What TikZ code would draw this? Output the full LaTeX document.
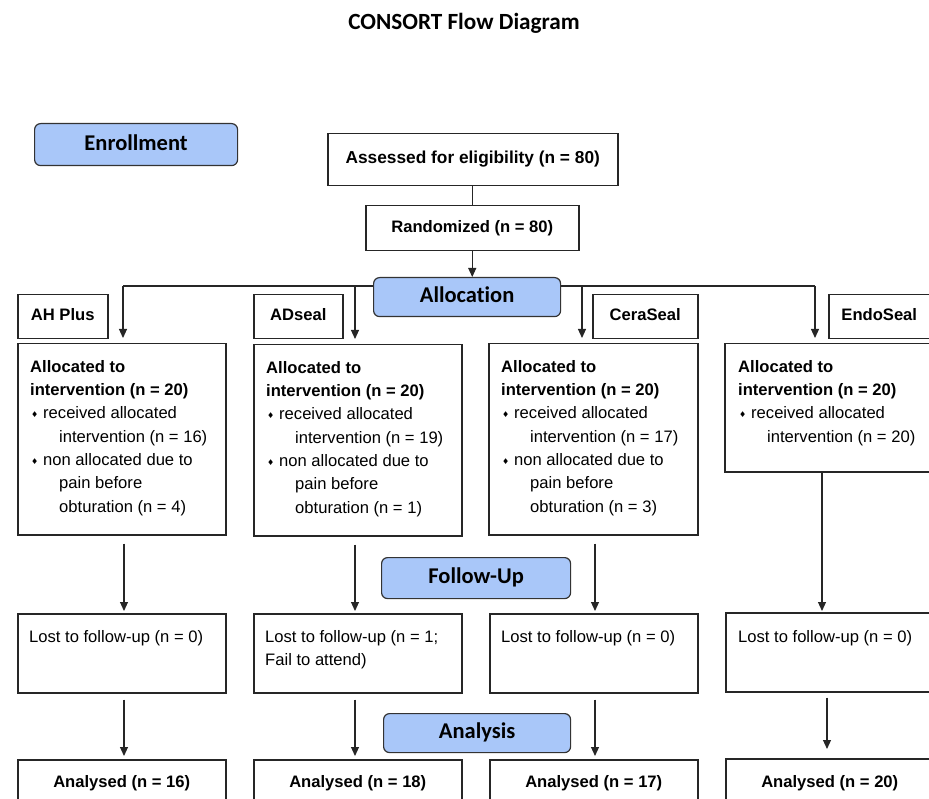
\documentclass[tikz,border=0pt]{standalone}
\usepackage{fontspec}
\setmainfont{Liberation Sans}
\newfontfamily\calfont[Ligatures=NoCommon]{Carlito}
\newfontfamily\symfont{DejaVu Sans}
\usetikzlibrary{arrows.meta}
\definecolor{phaseblue}{HTML}{A9C7F9}
\newcommand\bul{\hspace*{1pt}\makebox[12pt][l]{\symfont\fontsize{8}{8}\selectfont\raisebox{1.2pt}{♦}}}
\newcommand\cont{\hspace*{29pt}}
\begin{document}
\begin{tikzpicture}[x=1pt,y=-1pt,
  box/.style={draw=black!85, line width=1.5pt, fill=white, inner sep=0pt, anchor=north west,
    font=\bfseries\fontsize{16.6}{20}\selectfont, text height=12pt, text depth=3.5pt},
  phase/.style={draw=black!80, line width=1.2pt, fill=phaseblue, rounded corners=6pt, inner sep=0pt,
    anchor=north west, font=\calfont\bfseries\fontsize{22.5}{27}\selectfont, text height=14pt, text depth=3pt},
  conn/.style={line width=1.1pt, draw=black!85},
  arr/.style={conn, -{Triangle[length=9pt,width=8pt]}},
  txt/.style={inner sep=0pt, anchor=north west, align=left, font=\fontsize{16.6}{23.3}\selectfont},
]
\clip (0,0) rectangle (929,799);

\node[font=\calfont\bfseries\fontsize{23.2}{27}\selectfont] (title) at (464,23) {CONSORT Flow Diagram};

% allocation line
\coordinate (h1) at (123,286);
\coordinate (h2) at (355,286);
\coordinate (h3) at (582,286);
\coordinate (h4) at (815,286);
\draw[conn] (h1) -- (h4);

% enrollment
\node[phase, minimum width=203pt, minimum height=42pt] (enr) at (34,123) {Enrollment};
\node[box, minimum width=290pt, minimum height=52pt, font=\bfseries\fontsize{17.3}{20}\selectfont] (ass) at (327,133) {Assessed for eligibility (n = 80)};
\node[box, minimum width=213pt, minimum height=45pt] (rand) at (365,205) {Randomized (n = 80)};
\node[phase, minimum width=187pt, minimum height=39pt] (alloc) at (373,277) {Allocation};

\draw[conn] (ass.south -| rand.north) -- (rand.north);
\draw[arr] (rand.south) -- (rand.south |- alloc.north);

% group labels
\node[box, minimum width=90pt, minimum height=44pt] (g1) at (17,294) {AH Plus};
\node[box, minimum width=89pt, minimum height=44pt] (g2) at (253,294) {ADseal};
\node[box, minimum width=105pt, minimum height=44pt] (g3) at (592,294) {CeraSeal};
\node[box, minimum width=120pt, minimum height=44pt] (g4) at (828,294) {EndoSeal\hspace*{19pt}};

% allocated boxes
\node[box, minimum width=208pt, minimum height=191pt] (a1) at (17,343) {};
\node[box, minimum width=208pt, minimum height=191pt] (a2) at (253,344) {};
\node[box, minimum width=209pt, minimum height=191pt] (a3) at (488,343) {};
\node[box, minimum width=220pt, minimum height=128pt] (a4) at (724,343) {};

\foreach \h/\a in {h1/a1,h2/a2,h3/a3,h4/a4}
  \draw[arr, shorten >=5pt] (\h) -- (\h |- \a.north);

\node[txt] (a1t) at (30,360) {\textbf{Allocated to}\\\textbf{intervention (n = 20)}\\\bul received allocated\\\cont intervention (n = 16)\\\bul non allocated due to\\\cont pain before\\\cont obturation (n = 4)};
\node[txt] (a2t) at (266,361) {\textbf{Allocated to}\\\textbf{intervention (n = 20)}\\\bul received allocated\\\cont intervention (n = 19)\\\bul non allocated due to\\\cont pain before\\\cont obturation (n = 1)};
\node[txt] (a3t) at (501,360) {\textbf{Allocated to}\\\textbf{intervention (n = 20)}\\\bul received allocated\\\cont intervention (n = 17)\\\bul non allocated due to\\\cont pain before\\\cont obturation (n = 3)};
\node[txt] (a4t) at (738,360) {\textbf{Allocated to}\\\textbf{intervention (n = 20)}\\\bul received allocated\\\cont intervention (n = 20)};

% follow-up
\node[phase, minimum width=189pt, minimum height=41pt] (fol) at (381,557) {Follow-Up};
\node[box, minimum width=208pt, minimum height=79pt] (l1) at (17,613) {};
\node[box, minimum width=208pt, minimum height=79pt] (l2) at (253,613) {};
\node[box, minimum width=208pt, minimum height=79pt] (l3) at (489,613) {};
\node[box, minimum width=220pt, minimum height=79pt] (l4) at (725,612) {};
\node[txt] (l1t) at (29,630) {Lost to follow-up (n = 0)};
\node[txt] (l2t) at (265,630) {Lost to follow-up (n = 1;\\Fail to attend)};
\node[txt] (l3t) at (501,630) {Lost to follow-up (n = 0)};
\node[txt] (l4t) at (738,630) {Lost to follow-up (n = 0)};

\coordinate (k1) at (124,0);
\coordinate (k2) at (355,0);
\coordinate (k3) at (595,0);
\coordinate (k4) at (822,0);
\foreach \k/\a/\l in {k1/a1/l1,k2/a2/l2,k3/a3/l3}
  \draw[arr, shorten <=8pt, shorten >=2pt] (\k |- \a.south) -- (\k |- \l.north);
\draw[arr, shorten >=1pt] (k4 |- a4.south) -- (k4 |- l4.north);

% analysis
\node[phase, minimum width=187pt, minimum height=39pt] (ana) at (383,713) {Analysis};
\node[box, minimum width=208pt, minimum height=46pt] (n1) at (17,759) {Analysed (n = 16)};
\node[box, minimum width=208pt, minimum height=46pt] (n2) at (253,759) {Analysed (n = 18)};
\node[box, minimum width=208pt, minimum height=46pt] (n3) at (489,759) {Analysed (n = 17)};
\node[box, minimum width=208pt, minimum height=48pt] (n4) at (725,758) {Analysed (n = 20)};

\coordinate (m1) at (124,0);
\coordinate (m2) at (355,0);
\coordinate (m3) at (595,0);
\coordinate (m4) at (827,0);
\foreach \m/\l/\n in {m1/l1/n1,m2/l2/n2,m3/l3/n3}
  \draw[arr, shorten <=6pt, shorten >=3pt] (\m |- \l.south) -- (\m |- \n.north);
\draw[arr, shorten <=5pt, shorten >=9pt] (m4 |- l4.south) -- (m4 |- n4.north);
\end{tikzpicture}
\end{document}
